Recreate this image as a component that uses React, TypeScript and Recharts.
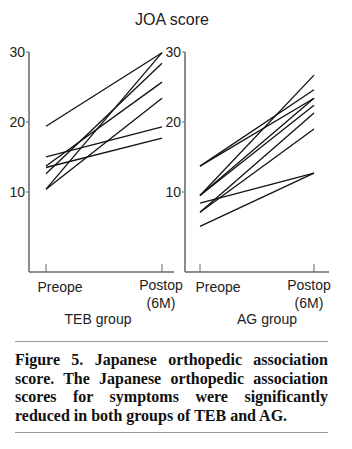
import { LineChart, Line, XAxis, YAxis } from 'recharts'

// time points: 0 = Preope, 1 = Postop (6M)
const stages = [0, 1]
const stageLabels = ['Preope', 'Postop', '(6M)']
const yTicks = [10, 20, 30]

// JOA score per patient, TEB group
const tebPre = [19.4, 10.4, 10.4, 12.6, 13.7, 15.0, 13.5]
const tebPost = [29.9, 29.9, 23.4, 28.4, 25.7, 19.3, 17.7]

// JOA score per patient, AG group
const agPre = [13.7, 13.7, 9.5, 9.5, 9.5, 8.4, 7.1, 7.1, 5.1]
const agPost = [24.6, 23.4, 26.7, 23.4, 22.4, 12.7, 21.3, 19.0, 12.7]

const captionLines = [
  'Figure 5. Japanese orthopedic association',
  'score. The Japanese orthopedic association',
  'scores for symptoms were significantly',
  'reduced in both groups of TEB and AG.'
]

function buildRows(pre: number[], post: number[]) {
  return stages.map((t, i) => {
    const row: Record<string, number> = { t }
    const src = i === 0 ? pre : post
    src.forEach((v, k) => {
      row['p' + k] = v
    })
    return row
  })
}

const sans = '"Liberation Sans", Arial, sans-serif'
const axisColor = '#666'

interface PanelProps {
  pre: number[]
  post: number[]
  left: number
  width: number
  yAxisWidth: number
  marginRight: number
  xDomain: [number, number]
}

function Panel({ pre, post, left, width, yAxisWidth, marginRight, xDomain }: PanelProps) {
  const rows = buildRows(pre, post)
  return (
    <div style={{ position: 'absolute', left, top: 0 }}>
      <LineChart
        width={width}
        height={280}
        data={rows}
        margin={{ top: 52, right: marginRight, left: 0, bottom: 0 }}
      >
        <XAxis
          dataKey="t"
          type="number"
          domain={xDomain}
          ticks={stages}
          allowDataOverflow
          height={8}
          // labels are placed by hand below, only the inward tick marks stay
          tick={() => <g />}
          tickSize={-8}
          axisLine={{ stroke: axisColor, strokeWidth: 1.5 }}
          tickLine={{ stroke: axisColor, strokeWidth: 1 }}
        />
        <YAxis
          type="number"
          domain={[-1.43, 30]}
          ticks={yTicks}
          allowDataOverflow
          width={yAxisWidth}
          tickSize={3}
          tickMargin={1}
          tick={{ fontSize: 14, fill: '#222', fontFamily: sans }}
          axisLine={{ stroke: axisColor, strokeWidth: 1.5 }}
          tickLine={{ stroke: axisColor, strokeWidth: 1 }}
        />
        {pre.map((_, k) => (
          <Line
            key={k}
            dataKey={'p' + k}
            type="linear"
            stroke="#111"
            strokeWidth={1.3}
            dot={false}
            isAnimationActive={false}
          />
        ))}
      </LineChart>
    </div>
  )
}

function Label({ x, y, text, size = 14 }: { x: number; y: number; text: string; size?: number }) {
  return (
    <div
      style={{
        position: 'absolute',
        left: x,
        top: y,
        transform: 'translate(-50%, -50%)',
        fontFamily: sans,
        fontSize: size,
        color: '#222',
        whiteSpace: 'nowrap',
        lineHeight: 1
      }}
    >
      {text}
    </div>
  )
}

export default function App() {
  return (
    <div
      style={{
        position: 'absolute',
        left: 0,
        top: 0,
        width: 352,
        height: 449,
        background: '#fff',
        overflow: 'hidden'
      }}
    >
      <Label x={172} y={20} text="JOA score" size={16} />

      <Panel
        pre={tebPre}
        post={tebPost}
        left={0}
        width={176}
        yAxisWidth={29}
        marginRight={2}
        xDomain={[-0.1466, 1.1034]}
      />
      <Panel
        pre={agPre}
        post={agPost}
        left={150}
        width={202}
        yAxisWidth={35}
        marginRight={23}
        xDomain={[-0.1316, 1.1316]}
      />

      <Label x={60} y={287} text={stageLabels[0]} />
      <Label x={161} y={285} text={stageLabels[1]} />
      <Label x={161} y={303} text={stageLabels[2]} />
      <Label x={98} y={319} text="TEB group" />

      <Label x={218} y={287} text={stageLabels[0]} />
      <Label x={309} y={285} text={stageLabels[1]} />
      <Label x={309} y={303} text={stageLabels[2]} />
      <Label x={267} y={319} text="AG group" />

      <div style={{ position: 'absolute', left: 15, top: 341, width: 313, height: 1, background: '#999' }} />
      <div
        style={{
          position: 'absolute',
          left: 15,
          top: 351,
          width: 313,
          fontFamily: '"Liberation Serif", "Times New Roman", serif',
          fontWeight: 'bold',
          fontSize: 16,
          lineHeight: '18.5px',
          letterSpacing: 0,
          color: '#111'
        }}
      >
        {captionLines.map((line, i) => (
          <div
            key={i}
            style={{
              textAlign: 'justify',
              textAlignLast: i < captionLines.length - 1 ? 'justify' : 'left'
            }}
          >
            {line}
          </div>
        ))}
      </div>
      <div style={{ position: 'absolute', left: 15, top: 432, width: 313, height: 1, background: '#999' }} />
    </div>
  )
}
